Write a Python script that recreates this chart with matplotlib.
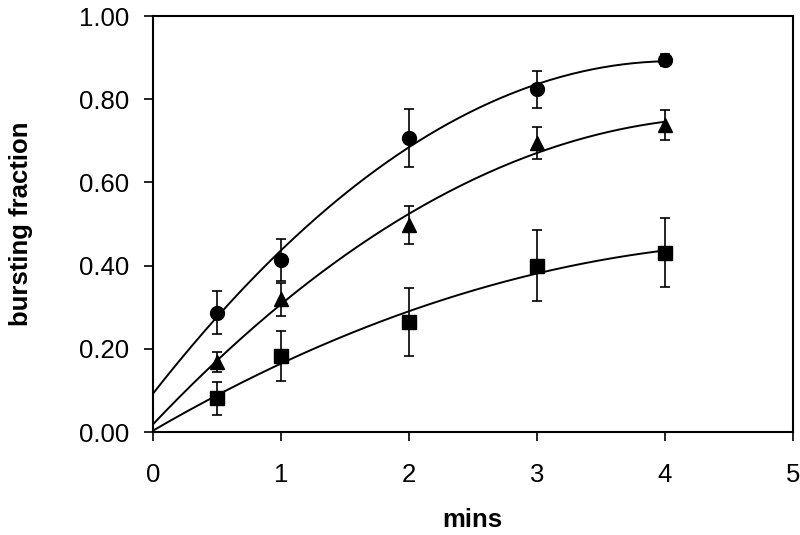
import matplotlib
matplotlib.use("Agg")
import matplotlib.pyplot as plt
import numpy as np

plt.rcParams['font.family'] = ['Liberation Sans', 'DejaVu Sans']

mins = [0.5, 1, 2, 3, 4]

circle_y = [0.287, 0.413, 0.706, 0.824, 0.894]
circle_err = [0.052, 0.05, 0.07, 0.044, 0.015]

triangle_y = [0.169, 0.319, 0.498, 0.695, 0.738]
triangle_err = [0.024, 0.04, 0.046, 0.038, 0.035]

square_y = [0.081, 0.183, 0.265, 0.400, 0.431]
square_err = [0.04, 0.06, 0.082, 0.085, 0.083]

fig = plt.figure(figsize=(8, 5.35), dpi=100)
ax = fig.add_axes([0.191, 0.1925, 0.8, 0.7775])

xfit = np.linspace(0, 4, 200)
series = [(circle_y, circle_err, 'o', 10),
          (triangle_y, triangle_err, '^', 10),
          (square_y, square_err, 's', 9.5)]
for ys, errs, mk, ms in series:
    # second order polynomial fit through the points
    coef = np.polyfit(mins, ys, 2)
    ax.plot(xfit, np.polyval(coef, xfit), color='black', lw=1.4)
    ax.errorbar(mins, ys, yerr=errs, fmt=mk, color='black', ms=ms,
                ecolor='black', elinewidth=1.2, capsize=3.9, capthick=1.2)

ax.set_xlim(0, 5)
ax.set_ylim(0, 1)
ax.set_xticks(range(6))
ax.set_yticks(np.arange(0, 1.01, 0.2))
ax.set_yticklabels([f"{v:.2f}" for v in np.arange(0, 1.01, 0.2)])
ax.tick_params(direction='out', length=6.2, width=1.2, labelsize=18.5)
ax.tick_params(axis='y', pad=11)
ax.tick_params(axis='x', pad=16)
for s in ax.spines.values():
    s.set_linewidth(1.5)

ax.set_xlabel("mins", fontsize=18.5, fontweight='bold', labelpad=15)
ax.set_ylabel("bursting fraction", fontsize=18.5, fontweight='bold', labelpad=33)

fig.savefig("out.png", dpi=100)
